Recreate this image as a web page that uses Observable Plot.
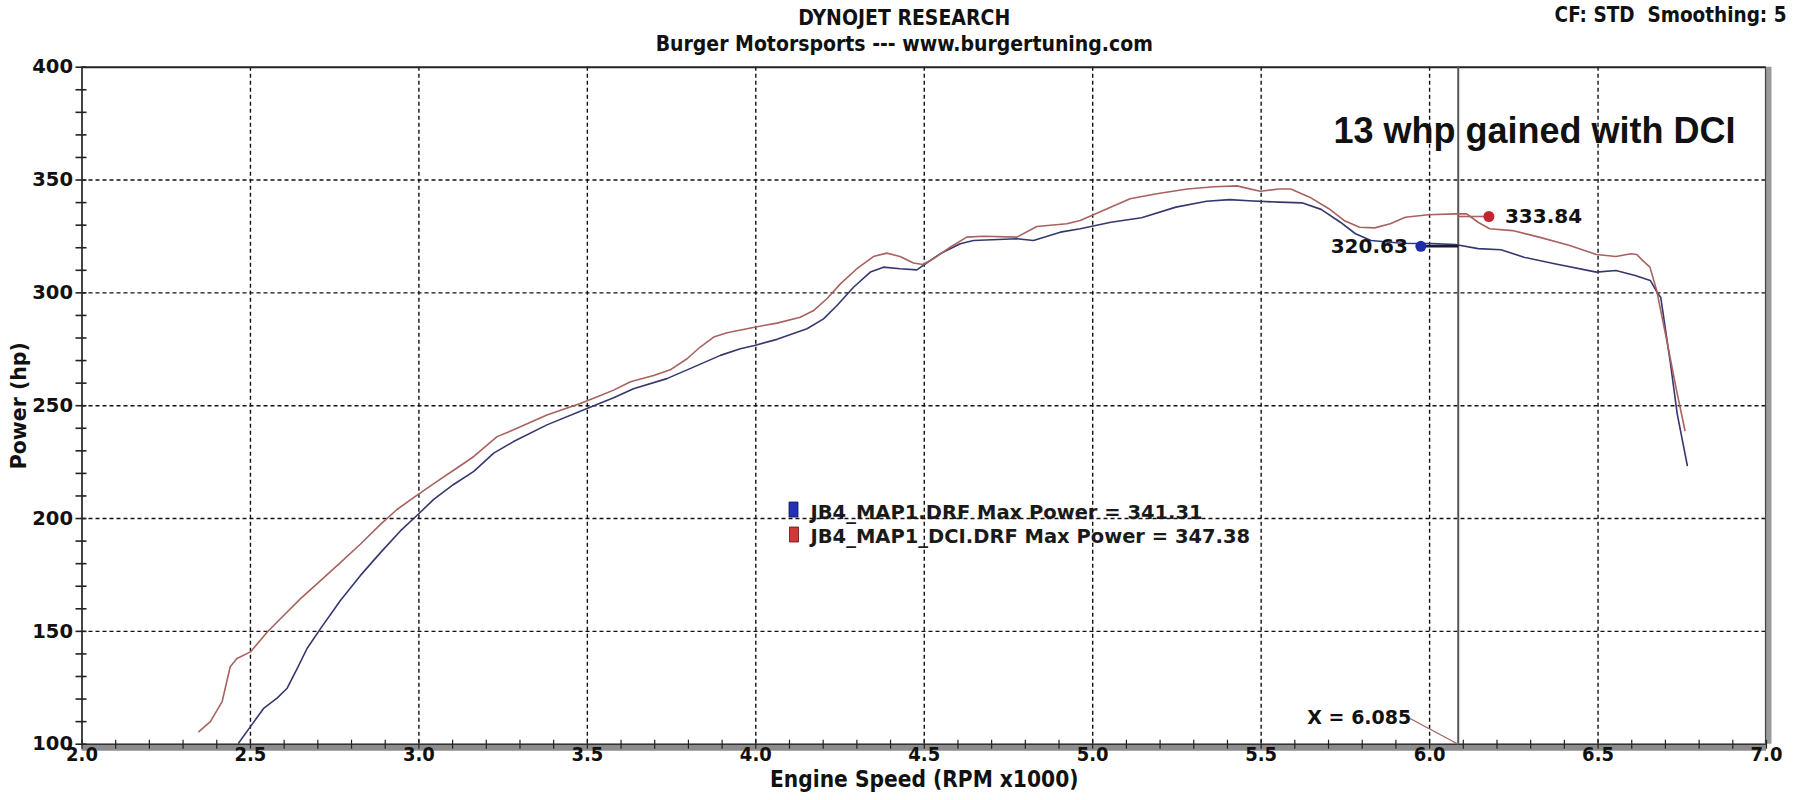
<!DOCTYPE html>
<html><head><meta charset="utf-8">
<script src="https://cdn.jsdelivr.net/npm/d3@7"></script>
<script src="https://cdn.jsdelivr.net/npm/@observablehq/plot@0.6"></script>
<style>body{margin:0;background:#fff;} svg{display:block}</style>
</head><body><div id="chart"></div>
<script>
// ---- data ----
const titleLines = ["DYNOJET RESEARCH", "Burger Motorsports --- www.burgertuning.com"];
const cornerNote = "CF: STD  Smoothing: 5";
const headline = "13 whp gained with DCI";
const seriesNames = ["JB4_MAP1.DRF", "JB4_MAP1_DCI.DRF"];
const maxPower = [341.31, 347.38];

const baseRpm = [2.465,2.50,2.54,2.579,2.609,2.639,2.668,2.708,2.767,2.826,2.886,2.945,2.998,3.044,3.103,3.163,3.222,3.281,3.38,3.499,3.578,3.637,3.736,3.815,3.895,3.954,3.996,4.063,4.152,4.201,4.241,4.29,4.34,4.379,4.428,4.478,4.496,4.547,4.607,4.646,4.775,4.824,4.904,4.963,5.054,5.145,5.247,5.338,5.406,5.463,5.553,5.621,5.678,5.735,5.78,5.826,5.917,6.007,6.076,6.144,6.212,6.28,6.371,6.495,6.553,6.61,6.655,6.678,6.686,6.715,6.735,6.765];
const baseHp  = [100.5,107.8,116.0,120.4,124.8,133.6,142.4,151.2,163.7,174.7,184.9,194.5,201.9,208.5,215.1,220.9,229.0,234.1,241.5,248.8,253.5,257.5,262.0,267.1,272.3,275.2,276.7,279.4,284.1,288.5,294.4,302.5,309.2,311.4,310.7,310.2,312.1,317.3,321.8,323.2,324.0,323.2,326.9,328.4,331.3,333.3,338.0,340.6,341.3,340.8,340.2,339.9,337.0,331.3,326.2,323.2,322.0,321.8,321.4,319.6,319.1,315.8,312.9,309.2,309.9,307.7,305.5,299.6,298.1,268.6,246.4,223.5];

const dciRpm = [2.347,2.381,2.416,2.44,2.46,2.50,2.55,2.589,2.648,2.708,2.767,2.826,2.886,2.935,2.998,3.054,3.113,3.163,3.232,3.281,3.38,3.479,3.539,3.578,3.628,3.697,3.746,3.796,3.835,3.875,3.915,3.996,4.063,4.132,4.172,4.211,4.251,4.30,4.349,4.389,4.428,4.468,4.496,4.527,4.577,4.626,4.676,4.775,4.834,4.923,4.963,5.031,5.111,5.19,5.281,5.361,5.428,5.463,5.497,5.553,5.588,5.644,5.701,5.746,5.792,5.837,5.883,5.928,5.996,6.076,6.11,6.144,6.178,6.246,6.325,6.416,6.495,6.553,6.598,6.615,6.632,6.654,6.674,6.704,6.733,6.758];
const dciHp  = [105.6,110.0,118.9,134.3,138.0,140.9,149.7,155.6,164.4,172.5,180.5,188.6,197.4,204.0,210.7,216.5,222.4,227.5,236.3,239.3,245.9,251.0,254.5,256.9,260.6,263.4,265.9,270.8,276.0,280.4,282.3,284.8,286.6,289.2,292.2,297.4,304.0,310.7,316.1,317.6,316.1,313.2,312.6,315.1,320.2,324.7,325.1,324.7,329.4,330.6,332.1,336.5,341.7,343.9,346.0,347.0,347.4,346.2,345.0,346.0,346.0,342.4,337.3,332.1,329.1,328.8,330.6,333.5,334.6,335.0,335.0,331.3,328.4,327.6,324.7,321.0,317.0,316.1,317.3,317.0,314.4,311.4,301.1,278.9,256.8,239.0];

const markerRpm = [5.974, 6.176];
const markerHp = [320.63, 333.84];
const cursorRpm = 6.085;

const xTicks = [2.0,2.5,3.0,3.5,4.0,4.5,5.0,5.5,6.0,6.5,7.0];
const yTicks = [100,150,200,250,300,350,400];
const xGrid = [2.5,3.0,3.5,4.0,4.5,5.0,5.5,6.0,6.5];
const yGrid = [150,200,250,300,350];
const xMinor = d3.range(20, 71).map(d => d / 10);
const yMinor = d3.range(100, 401, 10);

// ---- build ----
const baseData = baseRpm.map((r, i) => ({rpm: r, hp: baseHp[i]}));
const dciData = dciRpm.map((r, i) => ({rpm: r, hp: dciHp[i]}));
const markers = markerRpm.map((r, i) => ({rpm: r, hp: markerHp[i], s: i}));

const BLUE = "#34386e", RED = "#a8625f";
const F_WIDE = "DejaVu Sans, Verdana, sans-serif";
const F_NARROW = "'DejaVu Sans Condensed', 'Liberation Sans Narrow', sans-serif";
const rectSym = {draw(ctx) { ctx.moveTo(-4.5, -7.5); ctx.lineTo(4.5, -7.5); ctx.lineTo(4.5, 7.5); ctx.lineTo(-4.5, 7.5); ctx.closePath(); }};
const legendText = i => `${seriesNames[i]} Max Power = ${maxPower[i].toFixed(2)}`;

const chart = Plot.plot({
  width: 1804, height: 800,
  marginLeft: 81.5, marginRight: 38, marginTop: 66.7, marginBottom: 56.3,
  x: {domain: [2, 7]},
  y: {domain: [100, 400]},
  style: {background: "#fff"},
  marks: [
    Plot.ruleX(xGrid, {stroke: "#111", strokeWidth: 1.4, strokeDasharray: "4,3"}),
    Plot.ruleY(yGrid, {stroke: "#111", strokeWidth: 1.4, strokeDasharray: "4,3"}),
    // frame
    Plot.ruleY([400], {stroke: "#222", strokeWidth: 2}),
    Plot.ruleX([2], {stroke: "#444", strokeWidth: 2}),
    Plot.ruleX([7], {stroke: "#9a9a9a", strokeWidth: 6, dx: 2}),
    Plot.ruleX([7], {stroke: "#444", strokeWidth: 1.2, dx: -1}),
    Plot.ruleY([100], {stroke: "#8c8c8c", strokeWidth: 7, dy: 3}),
    Plot.ruleY([100], {stroke: "#333", strokeWidth: 1.5}),
    Plot.ruleX(xMinor, {y1: 100, y2: 100, insetTop: -4, insetBottom: -5, stroke: "#222", strokeWidth: 1.2}),
    Plot.ruleY(yMinor, {x1: 2, x2: 2, insetLeft: -6, insetRight: -5, stroke: "#222", strokeWidth: 1.6}),
    // cursor
    Plot.ruleX([cursorRpm], {stroke: "#555", strokeWidth: 2}),
    Plot.link([cursorRpm], {x1: 5.942, y1: 111.4, x2: d => d, y2: 100, stroke: RED, strokeWidth: 1.3}),
    Plot.text([cursorRpm], {x: d => d, y: 100, text: d => `X = ${d.toFixed(3)}`, dx: -47, dy: -26, textAnchor: "end", fontFamily: F_WIDE, fontWeight: "bold", fontSize: 19, fill: "#111"}),
    // curves
    Plot.line(baseData, {x: "rpm", y: "hp", stroke: BLUE, strokeWidth: 1.6}),
    Plot.line(dciData, {x: "rpm", y: "hp", stroke: RED, strokeWidth: 1.6}),
    // markers
    Plot.link([markers[0]], {x1: "rpm", x2: () => cursorRpm, y1: "hp", y2: "hp", stroke: "#1a1a30", strokeWidth: 2.5}),
    Plot.link([markers[1]], {x1: () => cursorRpm, x2: "rpm", y1: "hp", y2: "hp", stroke: RED, strokeWidth: 1.6}),
    Plot.dot(markers, {x: "rpm", y: "hp", r: 5.5, fill: d => d.s ? "#c4262e" : "#1f2aa8", stroke: "none"}),
    Plot.text([markers[0]], {x: "rpm", y: "hp", text: d => d.hp.toFixed(2), dx: -13, textAnchor: "end", fontFamily: F_WIDE, fontWeight: "bold", fontSize: 20, fill: "#111"}),
    Plot.text([markers[1]], {x: "rpm", y: "hp", text: d => d.hp.toFixed(2), dx: 16, textAnchor: "start", fontFamily: F_WIDE, fontWeight: "bold", fontSize: 20, fill: "#111"}),
    // legend
    Plot.dot([seriesNames[0]], {frameAnchor: "top-left", dx: 711.5, dy: 442.3, symbol: rectSym, r: 8, fill: "#2430b8", stroke: "#10184a", strokeWidth: 0.8}),
    Plot.dot([seriesNames[1]], {frameAnchor: "top-left", dx: 712, dy: 467.3, symbol: rectSym, r: 8, fill: "#d03a36", stroke: "#5a1010", strokeWidth: 0.8}),
    Plot.text([0], {frameAnchor: "top-left", dx: 728.5, dy: 445.3, text: legendText, textAnchor: "start", lineAnchor: "middle", fontFamily: F_WIDE, fontWeight: "bold", fontSize: 19.5, fill: "#1a1a1a"}),
    Plot.text([1], {frameAnchor: "top-left", dx: 728.5, dy: 469.3, text: legendText, textAnchor: "start", lineAnchor: "middle", fontFamily: F_WIDE, fontWeight: "bold", fontSize: 19.5, fill: "#1a1a1a"}),
    // headline
    Plot.text([headline], {frameAnchor: "top-right", dx: -31, dy: 64, text: d => d, textAnchor: "end", lineAnchor: "middle", fontFamily: "'Liberation Sans', Arial, sans-serif", fontWeight: "bold", fontSize: 36, fill: "#111"}),
    // titles
    Plot.text([titleLines[0]], {frameAnchor: "top", dx: -20, dy: -49, text: d => d, lineAnchor: "middle", fontFamily: F_NARROW, fontWeight: "bold", fontSize: 21, fill: "#111"}),
    Plot.text([titleLines[1]], {frameAnchor: "top", dx: -20, dy: -23, text: d => d, lineAnchor: "middle", fontFamily: F_NARROW, fontWeight: "bold", fontSize: 21, fill: "#111"}),
    Plot.text([cornerNote], {frameAnchor: "top-right", dx: 20, dy: -52, text: d => d, textAnchor: "end", lineAnchor: "middle", fontFamily: F_NARROW, fontWeight: "bold", fontSize: 20.5, fill: "#111"}),
    // axes
    Plot.axisY({ticks: yTicks, tickSize: 0, tickPadding: 9, label: null, fontFamily: F_WIDE, fontWeight: "bold", fontSize: 19.5, fill: "#111"}),
    Plot.axisX({ticks: xTicks, tickFormat: d3.format(".1f"), tickSize: 0, tickPadding: 3, label: null, fontFamily: F_NARROW, fontWeight: "bold", fontSize: 20, fill: "#111"}),
    Plot.text(["Power (hp)"], {frameAnchor: "left", dx: -63, rotate: -90, text: d => d, textAnchor: "middle", lineAnchor: "middle", fontFamily: F_WIDE, fontWeight: "bold", fontSize: 20.5, fill: "#111"}),
    Plot.text(["Engine Speed (RPM x1000)"], {frameAnchor: "bottom", dy: 36, text: d => d, textAnchor: "middle", lineAnchor: "middle", fontFamily: F_NARROW, fontWeight: "bold", fontSize: 22.5, fill: "#111"})
  ]
});
document.getElementById("chart").appendChild(chart);
</script>
</body></html>
